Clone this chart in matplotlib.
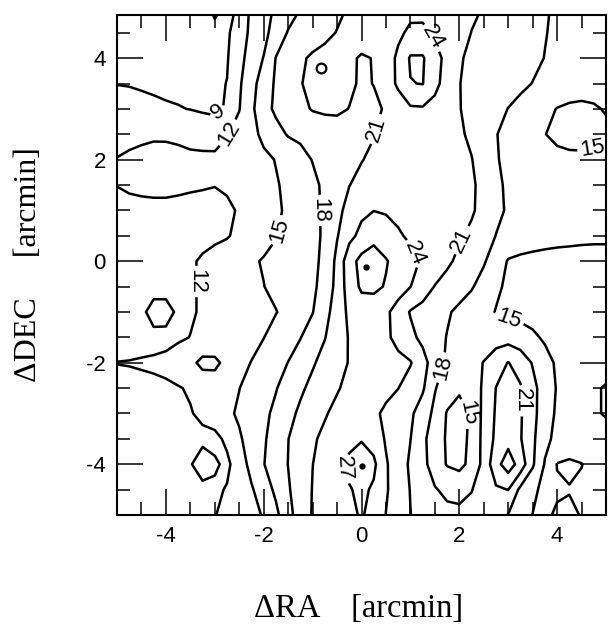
import numpy as np
import matplotlib
matplotlib.use('Agg')
import matplotlib.pyplot as plt
from matplotlib.ticker import MultipleLocator

plt.rcParams['font.family'] = ['Liberation Sans', 'DejaVu Sans']
plt.rcParams['axes.unicode_minus'] = False

# map grid: RA offsets (columns) and DEC offsets (rows, top to bottom)
ra = np.arange(-5.0, 5.001, 0.25)
dec = np.arange(5.0, -5.001, -0.5)

dec_5p0 = [7.5, 7.5, 7.6, 7.7, 7.8, 7.9, 8.1, 8.4, 9.5, 8.6, 9.2, 12.7, 13.9, 15.4, 16.7, 17.95, 18.8, 19.6, 20.4, 21.2, 21.8,
           22.3, 22.7, 23.0, 23.2, 23.1, 22.9, 22.5, 22.0, 21.5, 20.9, 20.4, 19.8, 19.3, 18.75, 18.2, 17.7, 17.3, 17.0, 16.8, 16.6]
dec_4p5 = [7.6, 7.6, 7.7, 7.8, 7.9, 8.0, 8.2, 8.3, 8.4, 8.7, 10.0, 12.9, 14.2, 16.2, 18.2, 18.9, 19.7, 20.4, 21.1, 21.9, 22.5,
           22.8, 23.1, 23.5, 24.5, 24.6, 23.6, 22.9, 22.0, 20.95, 20.5, 20.0, 19.4, 19.1, 18.6, 18.1, 17.6, 17.1, 16.7, 16.4, 16.2]
dec_4p0 = [7.8, 7.8, 7.9, 8.0, 8.1, 8.2, 8.3, 8.4, 8.5, 8.8, 10.9, 13.5, 15.1, 18.1, 19.3, 20.6, 21.4, 21.8, 21.9, 21.5, 20.7,
           21.1, 22.7, 24.5, 27.3, 27.3, 25.0, 23.2, 21.2, 20.6, 20.2, 19.8, 19.3, 18.9, 18.5, 17.95, 17.5, 17.0, 16.6, 16.3, 16.1]
dec_3p5 = [8.95, 8.9, 8.8, 8.7, 8.6, 8.5, 8.5, 8.5, 8.6, 9.05, 11.6, 14.0, 16.4, 18.4, 19.7, 20.9, 21.5, 21.8, 21.8, 21.4, 20.7,
           21.05, 22.8, 24.4, 26.9, 27.1, 24.6, 23.1, 21.05, 20.5, 20.0, 19.5, 19.0, 18.5, 17.95, 17.5, 17.0, 16.6, 16.3, 16.1, 16.0]
dec_3p0 = [9.9, 9.7, 9.5, 9.35, 9.2, 9.1, 8.95, 8.8, 8.8, 9.1, 11.9, 14.4, 17.0, 18.5, 19.4, 20.3, 21.2, 21.5, 21.4, 20.95, 20.5,
           20.6, 21.2, 22.8, 23.6, 23.7, 23.3, 22.2, 21.1, 20.3, 19.5, 18.75, 17.95, 17.3, 16.6, 15.8, 14.9, 14.5, 14.4, 14.7, 15.2]
dec_2p5 = [11.5, 11.5, 11.7, 11.8, 11.75, 11.5, 10.8, 10.1, 9.6, 11.8, 13.0, 14.25, 15.6, 17.1, 18.2, 18.55, 18.9, 19.3, 19.9, 20.3, 20.6,
           20.9, 21.8, 22.6, 23.0, 23.1, 22.8, 22.2, 21.4, 20.5, 19.3, 18.1, 17.3, 16.5, 15.8, 15.05, 14.5, 14.2, 14.1, 14.2, 14.4]
dec_2p0 = [12.05, 12.3, 12.4, 12.5, 12.6, 12.7, 12.8, 13.0, 13.2, 13.3, 13.6, 14.0, 14.45, 15.1, 16.1, 17.1, 18.1, 18.8, 19.5, 20.2, 20.9,
           21.5, 21.9, 22.2, 22.4, 22.4, 22.2, 21.9, 21.5, 21.1, 19.7, 18.2, 17.4, 16.8, 16.3, 15.9, 15.6, 15.5, 15.5, 15.6, 15.7]
dec_1p5 = [12.05, 12.3, 12.4, 12.4, 12.4, 12.35, 12.25, 12.15, 12.05, 12.3, 13.0, 13.6, 14.3, 14.8, 15.5, 16.5, 17.4, 18.5, 19.75, 20.95, 21.7,
           22.2, 22.5, 22.7, 22.8, 22.8, 22.6, 22.3, 21.9, 21.4, 20.2, 18.5, 17.6, 17.2, 16.9, 16.7, 16.5, 16.3, 16.2, 16.1, 16.0]
dec_1p0 = [11.2, 11.4, 11.5, 11.6, 11.6, 11.5, 11.4, 11.4, 11.4, 11.6, 12.2, 13.0, 13.8, 14.6, 15.4, 16.3, 17.3, 18.4, 20.25, 21.9, 23.4,
           23.95, 23.7, 23.4, 23.1, 22.8, 22.5, 22.2, 21.8, 21.3, 20.2, 18.6, 17.7, 17.3, 17.0, 16.8, 16.6, 16.5, 16.4, 16.3, 16.2]
dec_0p5 = [11.0, 11.1, 11.2, 11.3, 11.3, 11.3, 11.3, 11.3, 11.5, 11.8, 12.6, 13.35, 14.1, 14.85, 15.7, 16.5, 17.3, 18.4, 20.8, 23.2, 24.8,
           26.4, 25.5, 24.3, 23.6, 23.0, 22.4, 21.9, 21.3, 20.5, 19.2, 17.95, 17.0, 16.4, 16.0, 15.8, 15.6, 15.5, 15.4, 15.3, 15.3]
dec_0p0 = [10.9, 10.9, 11.0, 11.1, 11.2, 11.4, 11.7, 12.3, 12.9, 13.5, 14.1, 14.65, 15.2, 15.85, 16.5, 17.1, 17.7, 18.3, 21.8, 25.8, 27.9,
           28.0, 27.2, 26.0, 24.8, 23.65, 22.6, 21.5, 20.4, 19.4, 18.3, 16.5, 14.8, 14.5, 14.4, 14.3, 14.3, 14.3, 14.3, 14.4, 14.4]
dec_m0p5 = [10.7, 10.8, 10.9, 11.0, 11.2, 11.4, 11.7, 12.3, 12.8, 13.4, 13.9, 14.45, 14.95, 15.7, 16.4, 17.0, 17.7, 18.6, 22.1, 25.3, 27.5,
            27.6, 26.8, 25.4, 24.05, 22.5, 20.9, 20.0, 19.1, 18.25, 16.9, 15.4, 14.6, 14.3, 14.1, 14.0, 13.9, 13.9, 13.9, 13.9, 13.9]
dec_m1p0 = [10.6, 10.8, 11.4, 13.0, 12.8, 11.6, 11.7, 12.3, 12.7, 13.2, 13.6, 14.0, 14.5, 14.9, 15.8, 16.9, 17.9, 20.0, 22.4, 24.6, 25.4,
            25.5, 24.6, 22.7, 20.8, 20.0, 19.15, 18.3, 17.45, 16.6, 15.75, 14.9, 14.4, 14.1, 13.9, 13.8, 13.7, 13.6, 13.6, 13.6, 13.6]
dec_m1p5 = [10.8, 11.0, 11.2, 11.3, 11.4, 11.6, 12.05, 12.5, 13.0, 13.5, 14.0, 14.5, 14.95, 15.95, 16.9, 17.9, 19.35, 20.9, 22.5, 24.2, 25.0,
            25.1, 24.5, 23.2, 21.7, 20.3, 19.0, 17.9, 17.0, 16.6, 16.5, 16.6, 16.8, 16.3, 15.5, 14.6, 14.0, 13.7, 13.5, 13.4, 13.4]
dec_m2p0 = [12.05, 12.1, 12.2, 12.3, 12.5, 13.4, 14.2, 15.8, 15.6, 14.2, 14.5, 15.05, 16.0, 17.0, 18.05, 19.3, 20.7, 21.9, 23.0, 24.15, 25.0,
            25.2, 25.0, 24.7, 24.2, 22.1, 19.5, 17.5, 16.8, 17.0, 18.1, 19.8, 21.1, 19.7, 17.8, 16.0, 14.6, 13.8, 13.3, 13.0, 13.0]
dec_m2p5 = [11.3, 11.4, 11.5, 11.6, 11.7, 11.85, 12.25, 12.95, 13.6, 14.3, 14.95, 16.0, 16.9, 17.85, 19.2, 20.55, 21.7, 22.75, 23.8, 24.6, 25.0,
            25.0, 24.7, 24.05, 22.7, 21.4, 18.2, 16.4, 15.4, 16.2, 18.5, 21.05, 22.0, 21.3, 18.8, 16.65, 14.8, 13.9, 13.3, 12.3, 11.8]
dec_m3p0 = [11.2, 11.3, 11.4, 11.5, 11.6, 11.7, 11.85, 12.5, 13.5, 14.45, 15.4, 16.4, 17.4, 18.6, 20.2, 21.5, 22.7, 23.8, 24.6, 25.0, 25.0,
            24.5, 23.5, 22.5, 21.5, 19.6, 17.3, 14.8, 14.0, 15.4, 18.8, 21.3, 22.6, 21.3, 18.9, 16.3, 14.6, 14.0, 13.4, 12.3, 11.8]
dec_m3p5 = [11.1, 11.2, 11.3, 11.4, 11.5, 11.6, 11.7, 11.4, 11.2, 12.6, 14.65, 16.15, 17.65, 19.3, 20.95, 22.4, 23.7, 24.5, 25.3, 26.1, 26.8,
            25.8, 23.7, 22.3, 21.05, 18.7, 16.4, 14.7, 14.0, 15.6, 18.9, 21.6, 23.0, 21.2, 18.6, 15.7, 14.3, 13.6, 13.1, 12.8, 13.0]
dec_m4p0 = [11.0, 11.1, 11.2, 11.3, 11.4, 11.5, 11.8, 13.3, 12.4, 11.4, 13.55, 15.9, 17.9, 19.5, 21.05, 22.5, 23.97, 25.0, 26.3, 27.7, 28.5,
            27.6, 24.3, 22.4, 20.6, 18.8, 16.7, 14.8, 14.2, 15.8, 18.9, 23.0, 25.5, 22.8, 18.4, 14.8, 11.9, 11.6, 11.95, 12.6, 12.7]
dec_m4p5 = [10.9, 11.0, 11.1, 11.2, 11.3, 11.4, 11.5, 11.3, 11.5, 12.2, 13.5, 14.7, 16.5, 18.6, 20.7, 22.5, 24.1, 25.0, 26.0, 26.8, 27.6,
            26.6, 24.3, 22.6, 20.9, 19.6, 18.2, 17.4, 17.2, 17.9, 19.2, 20.6, 21.05, 17.3, 15.7, 14.1, 12.3, 12.1, 12.3, 12.5, 12.6]
dec_m5p0 = [10.8, 10.9, 11.0, 11.1, 11.2, 11.3, 11.45, 11.6, 11.9, 12.7, 13.5, 14.3, 15.2, 17.3, 20.1, 22.35, 24.2, 25.0, 25.6, 26.3, 27.3,
            25.9, 23.95, 22.5, 21.05, 20.0, 19.2, 18.7, 18.6, 18.8, 19.0, 18.7, 17.9, 16.4, 14.95, 12.4, 11.7, 11.6, 12.1, 12.4, 12.5]

levels = [9, 12, 15, 18, 21, 24, 27]

# where the contour labels sit
label_xy = [(-2.9, 2.9), (-2.68, 2.5), (-1.68, 0.6), (-0.82, 1.0), (-3.4, -0.4),
            (0.3, 2.6), (1.42, 4.38), (1.1, 0.16), (2.08, 0.4), (4.72, 2.25),
            (3.0, -1.2), (1.66, -2.1), (2.17, -3.0), (3.27, -2.75), (-0.4, -4.1)]

# peak marks (filled dots) and the small open ring
peak_ra = [0.1, 0.0]
peak_dec = [-0.12, -4.04]
ring_ra = [-0.82]
ring_dec = [3.8]

Z = np.array([dec_5p0, dec_4p5, dec_4p0, dec_3p5, dec_3p0, dec_2p5, dec_2p0,
              dec_1p5, dec_1p0, dec_0p5, dec_0p0, dec_m0p5, dec_m1p0, dec_m1p5,
              dec_m2p0, dec_m2p5, dec_m3p0, dec_m3p5, dec_m4p0, dec_m4p5, dec_m5p0])
X, Y = np.meshgrid(ra, dec)

fig = plt.figure(figsize=(6.08, 6.28), dpi=100)
ax = fig.add_axes([117 / 608, 1 - 515 / 628, 489 / 608, 500 / 628])

cs = ax.contour(X, Y, Z, levels=levels, colors='black', linewidths=1.8)
ax.clabel(cs, fmt='%d', manual=label_xy, inline=True, fontsize=16, inline_spacing=3)

ax.plot(peak_ra, peak_dec, 'o', color='black', markersize=3.5)
ax.plot(ring_ra, ring_dec, 'o', mfc='white', mec='black', mew=1.6, markersize=7)

ax.set_xlim(-5, 5)
ax.set_ylim(-5.0, 4.85)
ax.set_xticks([-4, -2, 0, 2, 4])
ax.set_yticks([-4, -2, 0, 2, 4])
ax.xaxis.set_minor_locator(MultipleLocator(0.5))
ax.yaxis.set_minor_locator(MultipleLocator(0.5))
ax.tick_params(which='both', direction='in', top=True, right=True, width=1.1)
ax.tick_params(which='major', length=19, labelsize=16, pad=8)
ax.tick_params(which='minor', length=9.5)
for s in ax.spines.values():
    s.set_linewidth(1.5)

ax.set_xlabel('\u0394RA    [arcmin]', fontsize=23.5, family='Liberation Serif')
ax.set_ylabel('\u0394DEC     [arcmin]', fontsize=23, family='Liberation Serif')
ax.xaxis.set_label_coords(0.495, -0.158)
ax.yaxis.set_label_coords(-0.151, 0.5)

fig.savefig('out.png', dpi=100)
